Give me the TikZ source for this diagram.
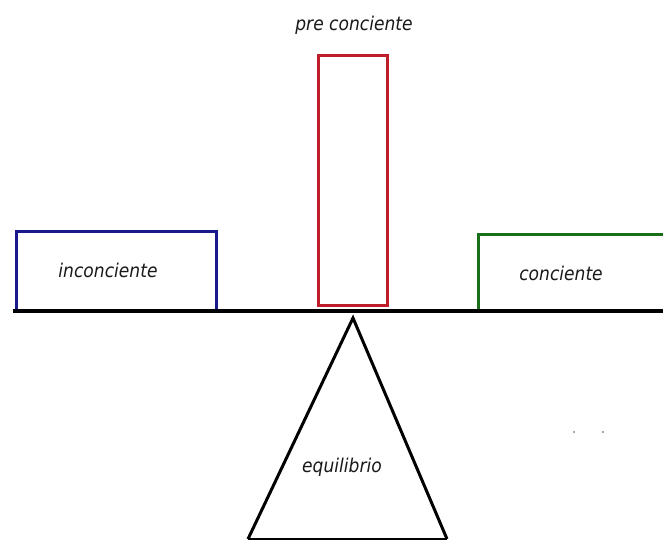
\documentclass[tikz,border=0pt]{standalone}
\usepackage{fontspec}
\setmainfont{DejaVu Sans}
\definecolor{boxblue}{RGB}{25,25,140}
\definecolor{boxred}{RGB}{190,30,40}
\definecolor{boxgreen}{RGB}{25,110,25}
\begin{document}
\begin{tikzpicture}[x=1pt,y=-1pt,
  lbl/.style={font=\fontsize{19}{22}\selectfont\itshape, text=black!90, inner sep=0pt, xscale=0.9},
  part/.style={line width=3pt, line join=miter}]
\useasboundingbox (0,0) rectangle (663,543);
\fill[white] (0,0) rectangle (663,543);
% boxes
\draw[part, boxblue] (16,309) -- (16,231) -- (216,231) -- (216,309);
\draw[part, boxred] (318,305) rectangle (387,56);
\draw[part, boxgreen] (478,309) -- (478,234) -- (663,234);
% beam
\coordinate (bl) at (13,311);
\coordinate (br) at (663,311);
\draw[line width=4.5pt] (bl) -- (br);
% triangle
\coordinate (apex) at (353,318);
\coordinate (tl) at (248,539);
\coordinate (tr) at (447,539);
\draw[line width=3pt, line join=miter] (tl) -- (apex) -- (tr);
\draw[line width=2.5pt] (tl) -- (tr);
% labels
\node[lbl] (pre) at (354,25) {pre conciente};
\node[lbl] (inc) at (108,270) {inconciente};
\node[lbl] (con) at (561,273) {conciente};
\node[lbl] (eq) at (342,467) {equilibrio};
% faint dots
\fill[black!45] (574,432) circle (1.2pt);
\fill[black!45] (603,432) circle (1.2pt);
\end{tikzpicture}
\end{document}
